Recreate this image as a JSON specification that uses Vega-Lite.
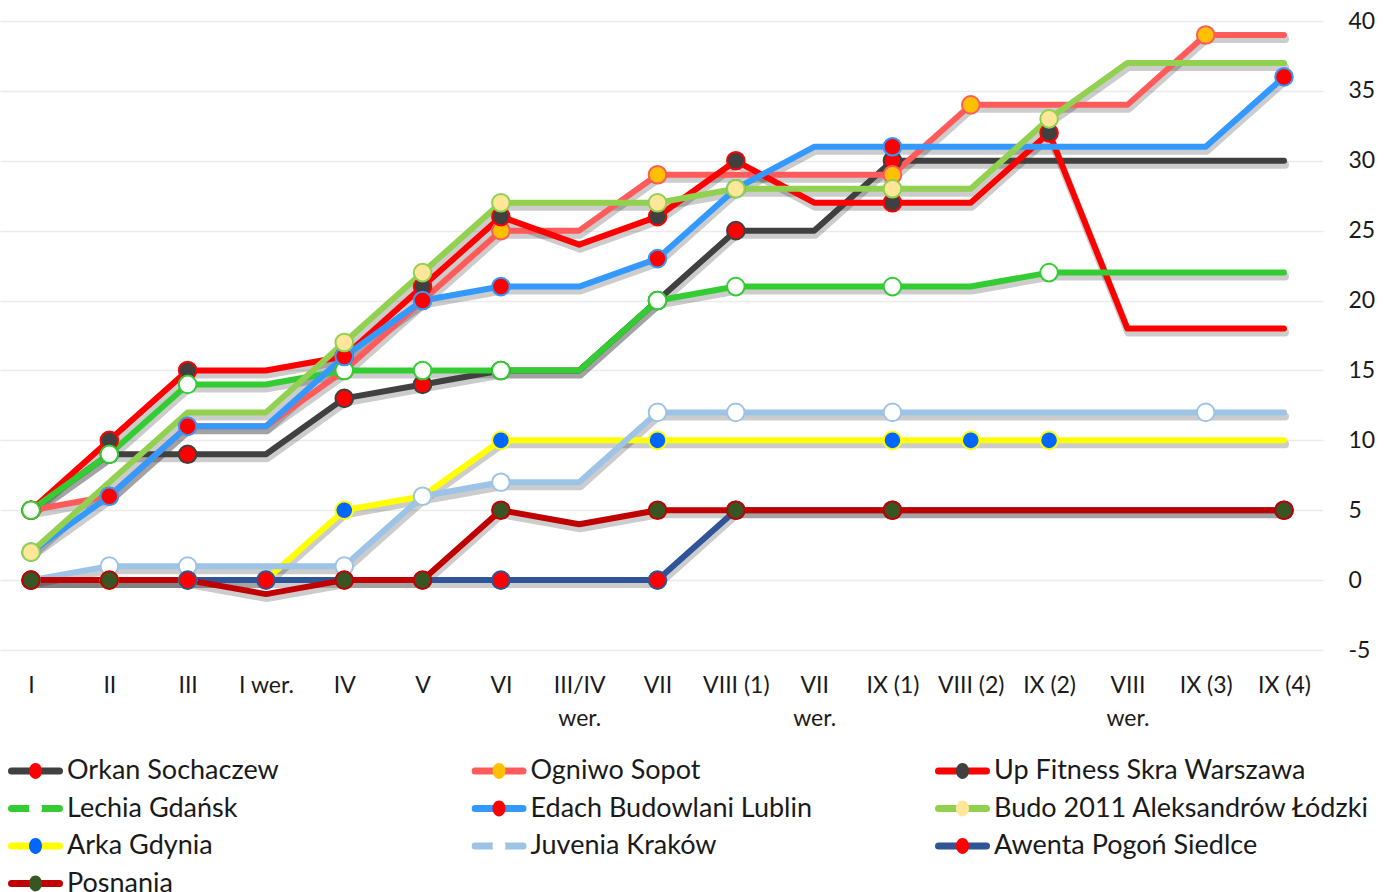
{
  "$schema": "https://vega.github.io/schema/vega-lite/v6.json",
  "width": 1323,
  "height": 629,
  "autosize": {"type": "none"},
  "padding": {"left": 0, "top": 21, "right": 67, "bottom": 242},
  "background": "white",
  "config": {"font": "Lato", "view": {"stroke": null}},
  "datasets": {
    "pts": [
      {"t":"Orkan Sochaczew","o":1,"r":"I","v":5,"m":1},{"t":"Orkan Sochaczew","o":1,"r":"II","v":9,"m":1},{"t":"Orkan Sochaczew","o":1,"r":"III","v":9,"m":1},{"t":"Orkan Sochaczew","o":1,"r":"I wer.","v":9,"m":0},{"t":"Orkan Sochaczew","o":1,"r":"IV","v":13,"m":1},{"t":"Orkan Sochaczew","o":1,"r":"V","v":14,"m":1},{"t":"Orkan Sochaczew","o":1,"r":"VI","v":15,"m":1},{"t":"Orkan Sochaczew","o":1,"r":"III/IV wer.","v":15,"m":0},{"t":"Orkan Sochaczew","o":1,"r":"VII","v":20,"m":1},{"t":"Orkan Sochaczew","o":1,"r":"VIII (1)","v":25,"m":1},{"t":"Orkan Sochaczew","o":1,"r":"VII wer.","v":25,"m":0},{"t":"Orkan Sochaczew","o":1,"r":"IX (1)","v":30,"m":1},{"t":"Orkan Sochaczew","o":1,"r":"VIII (2)","v":30,"m":0},{"t":"Orkan Sochaczew","o":1,"r":"IX (2)","v":30,"m":0},{"t":"Orkan Sochaczew","o":1,"r":"VIII wer.","v":30,"m":0},{"t":"Orkan Sochaczew","o":1,"r":"IX (3)","v":30,"m":0},{"t":"Orkan Sochaczew","o":1,"r":"IX (4)","v":30,"m":0},
      {"t":"Ogniwo Sopot","o":2,"r":"I","v":5,"m":1},{"t":"Ogniwo Sopot","o":2,"r":"II","v":6,"m":1},{"t":"Ogniwo Sopot","o":2,"r":"III","v":11,"m":1},{"t":"Ogniwo Sopot","o":2,"r":"I wer.","v":11,"m":0},{"t":"Ogniwo Sopot","o":2,"r":"IV","v":15,"m":1},{"t":"Ogniwo Sopot","o":2,"r":"V","v":20,"m":1},{"t":"Ogniwo Sopot","o":2,"r":"VI","v":25,"m":1},{"t":"Ogniwo Sopot","o":2,"r":"III/IV wer.","v":25,"m":0},{"t":"Ogniwo Sopot","o":2,"r":"VII","v":29,"m":1},{"t":"Ogniwo Sopot","o":2,"r":"VIII (1)","v":29,"m":0},{"t":"Ogniwo Sopot","o":2,"r":"VII wer.","v":29,"m":0},{"t":"Ogniwo Sopot","o":2,"r":"IX (1)","v":29,"m":1},{"t":"Ogniwo Sopot","o":2,"r":"VIII (2)","v":34,"m":1},{"t":"Ogniwo Sopot","o":2,"r":"IX (2)","v":34,"m":0},{"t":"Ogniwo Sopot","o":2,"r":"VIII wer.","v":34,"m":0},{"t":"Ogniwo Sopot","o":2,"r":"IX (3)","v":39,"m":1},{"t":"Ogniwo Sopot","o":2,"r":"IX (4)","v":39,"m":0},
      {"t":"Up Fitness Skra Warszawa","o":3,"r":"I","v":5,"m":1},{"t":"Up Fitness Skra Warszawa","o":3,"r":"II","v":10,"m":1},{"t":"Up Fitness Skra Warszawa","o":3,"r":"III","v":15,"m":1},{"t":"Up Fitness Skra Warszawa","o":3,"r":"I wer.","v":15,"m":0},{"t":"Up Fitness Skra Warszawa","o":3,"r":"IV","v":16,"m":1},{"t":"Up Fitness Skra Warszawa","o":3,"r":"V","v":21,"m":1},{"t":"Up Fitness Skra Warszawa","o":3,"r":"VI","v":26,"m":1},{"t":"Up Fitness Skra Warszawa","o":3,"r":"III/IV wer.","v":24,"m":0},{"t":"Up Fitness Skra Warszawa","o":3,"r":"VII","v":26,"m":1},{"t":"Up Fitness Skra Warszawa","o":3,"r":"VIII (1)","v":30,"m":1},{"t":"Up Fitness Skra Warszawa","o":3,"r":"VII wer.","v":27,"m":0},{"t":"Up Fitness Skra Warszawa","o":3,"r":"IX (1)","v":27,"m":1},{"t":"Up Fitness Skra Warszawa","o":3,"r":"VIII (2)","v":27,"m":0},{"t":"Up Fitness Skra Warszawa","o":3,"r":"IX (2)","v":32,"m":1},{"t":"Up Fitness Skra Warszawa","o":3,"r":"VIII wer.","v":18,"m":0},{"t":"Up Fitness Skra Warszawa","o":3,"r":"IX (3)","v":18,"m":0},{"t":"Up Fitness Skra Warszawa","o":3,"r":"IX (4)","v":18,"m":0},
      {"t":"Lechia Gdańsk","o":4,"r":"I","v":5,"m":1},{"t":"Lechia Gdańsk","o":4,"r":"II","v":9,"m":1},{"t":"Lechia Gdańsk","o":4,"r":"III","v":14,"m":1},{"t":"Lechia Gdańsk","o":4,"r":"I wer.","v":14,"m":0},{"t":"Lechia Gdańsk","o":4,"r":"IV","v":15,"m":1},{"t":"Lechia Gdańsk","o":4,"r":"V","v":15,"m":1},{"t":"Lechia Gdańsk","o":4,"r":"VI","v":15,"m":1},{"t":"Lechia Gdańsk","o":4,"r":"III/IV wer.","v":15,"m":0},{"t":"Lechia Gdańsk","o":4,"r":"VII","v":20,"m":1},{"t":"Lechia Gdańsk","o":4,"r":"VIII (1)","v":21,"m":1},{"t":"Lechia Gdańsk","o":4,"r":"VII wer.","v":21,"m":0},{"t":"Lechia Gdańsk","o":4,"r":"IX (1)","v":21,"m":1},{"t":"Lechia Gdańsk","o":4,"r":"VIII (2)","v":21,"m":0},{"t":"Lechia Gdańsk","o":4,"r":"IX (2)","v":22,"m":1},{"t":"Lechia Gdańsk","o":4,"r":"VIII wer.","v":22,"m":0},{"t":"Lechia Gdańsk","o":4,"r":"IX (3)","v":22,"m":0},{"t":"Lechia Gdańsk","o":4,"r":"IX (4)","v":22,"m":0},
      {"t":"Edach Budowlani Lublin","o":5,"r":"I","v":2,"m":1},{"t":"Edach Budowlani Lublin","o":5,"r":"II","v":6,"m":1},{"t":"Edach Budowlani Lublin","o":5,"r":"III","v":11,"m":1},{"t":"Edach Budowlani Lublin","o":5,"r":"I wer.","v":11,"m":0},{"t":"Edach Budowlani Lublin","o":5,"r":"IV","v":16,"m":1},{"t":"Edach Budowlani Lublin","o":5,"r":"V","v":20,"m":1},{"t":"Edach Budowlani Lublin","o":5,"r":"VI","v":21,"m":1},{"t":"Edach Budowlani Lublin","o":5,"r":"III/IV wer.","v":21,"m":0},{"t":"Edach Budowlani Lublin","o":5,"r":"VII","v":23,"m":1},{"t":"Edach Budowlani Lublin","o":5,"r":"VIII (1)","v":28,"m":1},{"t":"Edach Budowlani Lublin","o":5,"r":"VII wer.","v":31,"m":0},{"t":"Edach Budowlani Lublin","o":5,"r":"IX (1)","v":31,"m":1},{"t":"Edach Budowlani Lublin","o":5,"r":"VIII (2)","v":31,"m":0},{"t":"Edach Budowlani Lublin","o":5,"r":"IX (2)","v":31,"m":0},{"t":"Edach Budowlani Lublin","o":5,"r":"VIII wer.","v":31,"m":0},{"t":"Edach Budowlani Lublin","o":5,"r":"IX (3)","v":31,"m":0},{"t":"Edach Budowlani Lublin","o":5,"r":"IX (4)","v":36,"m":1},
      {"t":"Budo 2011 Aleksandrów Łódzki","o":6,"r":"I","v":2,"m":1},{"t":"Budo 2011 Aleksandrów Łódzki","o":6,"r":"II","v":7,"m":0},{"t":"Budo 2011 Aleksandrów Łódzki","o":6,"r":"III","v":12,"m":0},{"t":"Budo 2011 Aleksandrów Łódzki","o":6,"r":"I wer.","v":12,"m":0},{"t":"Budo 2011 Aleksandrów Łódzki","o":6,"r":"IV","v":17,"m":1},{"t":"Budo 2011 Aleksandrów Łódzki","o":6,"r":"V","v":22,"m":1},{"t":"Budo 2011 Aleksandrów Łódzki","o":6,"r":"VI","v":27,"m":1},{"t":"Budo 2011 Aleksandrów Łódzki","o":6,"r":"III/IV wer.","v":27,"m":0},{"t":"Budo 2011 Aleksandrów Łódzki","o":6,"r":"VII","v":27,"m":1},{"t":"Budo 2011 Aleksandrów Łódzki","o":6,"r":"VIII (1)","v":28,"m":1},{"t":"Budo 2011 Aleksandrów Łódzki","o":6,"r":"VII wer.","v":28,"m":0},{"t":"Budo 2011 Aleksandrów Łódzki","o":6,"r":"IX (1)","v":28,"m":1},{"t":"Budo 2011 Aleksandrów Łódzki","o":6,"r":"VIII (2)","v":28,"m":0},{"t":"Budo 2011 Aleksandrów Łódzki","o":6,"r":"IX (2)","v":33,"m":1},{"t":"Budo 2011 Aleksandrów Łódzki","o":6,"r":"VIII wer.","v":37,"m":0},{"t":"Budo 2011 Aleksandrów Łódzki","o":6,"r":"IX (3)","v":37,"m":0},{"t":"Budo 2011 Aleksandrów Łódzki","o":6,"r":"IX (4)","v":37,"m":0},
      {"t":"Arka Gdynia","o":7,"r":"I","v":0,"m":1},{"t":"Arka Gdynia","o":7,"r":"II","v":0,"m":1},{"t":"Arka Gdynia","o":7,"r":"III","v":0,"m":1},{"t":"Arka Gdynia","o":7,"r":"I wer.","v":0,"m":0},{"t":"Arka Gdynia","o":7,"r":"IV","v":5,"m":1},{"t":"Arka Gdynia","o":7,"r":"V","v":6,"m":1},{"t":"Arka Gdynia","o":7,"r":"VI","v":10,"m":1},{"t":"Arka Gdynia","o":7,"r":"III/IV wer.","v":10,"m":0},{"t":"Arka Gdynia","o":7,"r":"VII","v":10,"m":1},{"t":"Arka Gdynia","o":7,"r":"VIII (1)","v":10,"m":0},{"t":"Arka Gdynia","o":7,"r":"VII wer.","v":10,"m":0},{"t":"Arka Gdynia","o":7,"r":"IX (1)","v":10,"m":1},{"t":"Arka Gdynia","o":7,"r":"VIII (2)","v":10,"m":1},{"t":"Arka Gdynia","o":7,"r":"IX (2)","v":10,"m":1},{"t":"Arka Gdynia","o":7,"r":"VIII wer.","v":10,"m":0},{"t":"Arka Gdynia","o":7,"r":"IX (3)","v":10,"m":0},{"t":"Arka Gdynia","o":7,"r":"IX (4)","v":10,"m":0},
      {"t":"Juvenia Kraków","o":8,"r":"I","v":0,"m":1},{"t":"Juvenia Kraków","o":8,"r":"II","v":1,"m":1},{"t":"Juvenia Kraków","o":8,"r":"III","v":1,"m":1},{"t":"Juvenia Kraków","o":8,"r":"I wer.","v":1,"m":0},{"t":"Juvenia Kraków","o":8,"r":"IV","v":1,"m":1},{"t":"Juvenia Kraków","o":8,"r":"V","v":6,"m":1},{"t":"Juvenia Kraków","o":8,"r":"VI","v":7,"m":1},{"t":"Juvenia Kraków","o":8,"r":"III/IV wer.","v":7,"m":0},{"t":"Juvenia Kraków","o":8,"r":"VII","v":12,"m":1},{"t":"Juvenia Kraków","o":8,"r":"VIII (1)","v":12,"m":1},{"t":"Juvenia Kraków","o":8,"r":"VII wer.","v":12,"m":0},{"t":"Juvenia Kraków","o":8,"r":"IX (1)","v":12,"m":1},{"t":"Juvenia Kraków","o":8,"r":"VIII (2)","v":12,"m":0},{"t":"Juvenia Kraków","o":8,"r":"IX (2)","v":12,"m":0},{"t":"Juvenia Kraków","o":8,"r":"VIII wer.","v":12,"m":0},{"t":"Juvenia Kraków","o":8,"r":"IX (3)","v":12,"m":1},{"t":"Juvenia Kraków","o":8,"r":"IX (4)","v":12,"m":0},
      {"t":"Awenta Pogoń Siedlce","o":9,"r":"I","v":0,"m":1},{"t":"Awenta Pogoń Siedlce","o":9,"r":"II","v":0,"m":0},{"t":"Awenta Pogoń Siedlce","o":9,"r":"III","v":0,"m":1},{"t":"Awenta Pogoń Siedlce","o":9,"r":"I wer.","v":0,"m":1},{"t":"Awenta Pogoń Siedlce","o":9,"r":"IV","v":0,"m":0},{"t":"Awenta Pogoń Siedlce","o":9,"r":"V","v":0,"m":0},{"t":"Awenta Pogoń Siedlce","o":9,"r":"VI","v":0,"m":1},{"t":"Awenta Pogoń Siedlce","o":9,"r":"III/IV wer.","v":0,"m":0},{"t":"Awenta Pogoń Siedlce","o":9,"r":"VII","v":0,"m":1},{"t":"Awenta Pogoń Siedlce","o":9,"r":"VIII (1)","v":5,"m":1},{"t":"Awenta Pogoń Siedlce","o":9,"r":"VII wer.","v":5,"m":0},{"t":"Awenta Pogoń Siedlce","o":9,"r":"IX (1)","v":5,"m":1},{"t":"Awenta Pogoń Siedlce","o":9,"r":"VIII (2)","v":5,"m":0},{"t":"Awenta Pogoń Siedlce","o":9,"r":"IX (2)","v":5,"m":0},{"t":"Awenta Pogoń Siedlce","o":9,"r":"VIII wer.","v":5,"m":0},{"t":"Awenta Pogoń Siedlce","o":9,"r":"IX (3)","v":5,"m":0},{"t":"Awenta Pogoń Siedlce","o":9,"r":"IX (4)","v":5,"m":1},
      {"t":"Posnania","o":10,"r":"I","v":0,"m":1},{"t":"Posnania","o":10,"r":"II","v":0,"m":1},{"t":"Posnania","o":10,"r":"III","v":0,"m":0},{"t":"Posnania","o":10,"r":"I wer.","v":-1,"m":0},{"t":"Posnania","o":10,"r":"IV","v":0,"m":1},{"t":"Posnania","o":10,"r":"V","v":0,"m":1},{"t":"Posnania","o":10,"r":"VI","v":5,"m":1},{"t":"Posnania","o":10,"r":"III/IV wer.","v":4,"m":0},{"t":"Posnania","o":10,"r":"VII","v":5,"m":1},{"t":"Posnania","o":10,"r":"VIII (1)","v":5,"m":1},{"t":"Posnania","o":10,"r":"VII wer.","v":5,"m":0},{"t":"Posnania","o":10,"r":"IX (1)","v":5,"m":1},{"t":"Posnania","o":10,"r":"VIII (2)","v":5,"m":0},{"t":"Posnania","o":10,"r":"IX (2)","v":5,"m":0},{"t":"Posnania","o":10,"r":"VIII wer.","v":5,"m":0},{"t":"Posnania","o":10,"r":"IX (3)","v":5,"m":0},{"t":"Posnania","o":10,"r":"IX (4)","v":5,"m":1}
    ]
  },
  "data": {"name": "pts"},
  "encoding": {
    "x": {
      "field": "r",
      "type": "ordinal",
      "sort": ["I","II","III","I wer.","IV","V","VI","III/IV wer.","VII","VIII (1)","VII wer.","IX (1)","VIII (2)","IX (2)","VIII wer.","IX (3)","IX (4)"],
      "scale": {"type": "point", "padding": 0.447, "align": 0.443},
      "axis": {
        "title": null, "domain": false, "ticks": false, "grid": false, "labelAngle": 0,
        "labelFontSize": 23, "labelColor": "#1a1a1a", "labelPadding": 24, "labelLineHeight": 33,
        "labelOverlap": false, "labelBaseline": "top",
        "labelExpr": "indexof(['III/IV wer.','VII wer.','VIII wer.'], datum.value) >= 0 ? split(datum.value, ' ') : datum.value"
      }
    },
    "y": {
      "field": "v",
      "type": "quantitative",
      "scale": {"domain": [-5, 40], "nice": false, "zero": false},
      "axis": {
        "title": null, "orient": "right", "values": [-5,0,5,10,15,20,25,30,35,40],
        "domain": false, "ticks": false, "grid": true, "gridColor": "#EBEBEB", "gridWidth": 1.5,
        "labelFontSize": 23, "labelColor": "#1a1a1a", "labelAlign": "left", "labelPadding": 25,
        "labelExpr": "'' + datum.value"
      }
    }
  },
  "layer": [
    {
      "mark": {"type": "line", "stroke": "#000000", "strokeWidth": 8, "opacity": 0.2, "xOffset": 1, "yOffset": 4, "strokeCap": "round", "strokeJoin": "round"},
      "encoding": {"detail": {"field": "t"}, "order": {"value": null}}
    },
    {
      "mark": {"type": "line", "strokeWidth": 6, "strokeCap": "round", "strokeJoin": "round"},
      "encoding": {
        "order": {"value": null},
        "stroke": {
          "field": "t", "type": "nominal",
          "scale": {
            "domain": ["Orkan Sochaczew","Ogniwo Sopot","Up Fitness Skra Warszawa","Lechia Gdańsk","Edach Budowlani Lublin","Budo 2011 Aleksandrów Łódzki","Arka Gdynia","Juvenia Kraków","Awenta Pogoń Siedlce","Posnania"],
            "range": ["#404040","#FF5B5B","#FF0000","#33CC33","#3399FF","#92D050","#FFFF00","#9DC3E6","#2F5597","#C00000"]
          },
          "legend": {
            "title": null, "orient": "none", "direction": "horizontal", "legendX": 8, "legendY": 735, "columns": 3, "padding": 0,
            "symbolType": "stroke", "symbolSize": 2304, "symbolStrokeWidth": 7,
            "clipHeight": 30, "rowPadding": 7.5, "columnPadding": 28.5, "gridAlign": "all",
            "labelFontSize": 27, "labelColor": "#1a1a1a", "labelOffset": 4, "labelLimit": 0, "zindex": 1,
            "encode": {"symbols": {"update": {"strokeCap": {"value": "round"}}}}
          }
        }
      }
    },
    {
      "transform": [{"filter": "datum.m == 1"}],
      "mark": {"type": "point", "shape": "circle", "size": 310, "strokeWidth": 2, "opacity": 1, "fillOpacity": 1, "strokeOpacity": 1},
      "encoding": {
        "stroke": {"field": "t", "type": "nominal"},
        "fill": {
          "field": "t", "type": "nominal",
          "sort": {"field": "o", "op": "min"},
          "scale": {"range": ["#FF0000","#FFC000","#404040","#FFFFFF","#FF0000","#FFE699","#0066FF","#FFFFFF","#FF0000","#375623"]},
          "legend": {
            "title": null, "orient": "none", "direction": "horizontal", "legendX": 8, "legendY": 735, "columns": 3, "padding": 0,
            "symbolType": "M-0.27,0A0.27,0.33 0 1,1 0.27,0A0.27,0.33 0 1,1 -0.27,0Z", "symbolSize": 2304, "symbolStrokeWidth": 7,
            "clipHeight": 30, "rowPadding": 7.5, "columnPadding": 28.5, "gridAlign": "all",
            "labelFontSize": 27, "labelColor": "transparent", "labelOffset": 4, "labelLimit": 0, "zindex": 2,
            "encode": {"symbols": {"update": {"stroke": {"scale": "stroke", "field": "value"}, "strokeWidth": {"value": 2}, "opacity": {"value": 1}, "fillOpacity": {"value": 1}, "strokeOpacity": {"value": 1}}}}
          }
        }
      }
    }
  ]
}
